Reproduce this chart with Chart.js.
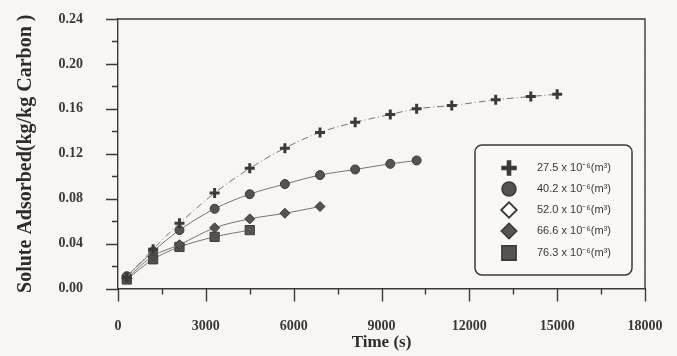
<!DOCTYPE html>
<html>
<head>
<meta charset="utf-8">
<script src="https://cdn.jsdelivr.net/npm/chart.js@4/dist/chart.umd.min.js"></script>
<style>
  html, body { margin: 0; padding: 0; background: #f7f6f2; }
  #wrap { width: 677px; height: 356px; position: relative; }
</style>
</head>
<body>
<div id="wrap"><canvas id="c" width="677" height="356"></canvas></div>
<script>
// Sampling times (s)
const times = [300, 1200, 2100, 3300, 4500, 5700, 6900, 8100, 9300, 10200, 11400, 12900, 14100, 15000];

// Solute adsorbed (kg/kg carbon) for each solution volume
const vol275 = [0.010, 0.035, 0.058, 0.085, 0.107, 0.125, 0.139, 0.148, 0.155, 0.160, 0.163, 0.168, 0.171, 0.173];
const vol402 = [0.011, 0.033, 0.052, 0.071, 0.084, 0.093, 0.101, 0.106, 0.111, 0.114];
const vol520 = [];
const vol666 = [0.009, 0.029, 0.039, 0.054, 0.062, 0.067, 0.073];
const vol763 = [0.008, 0.026, 0.037, 0.046, 0.052];

const seriesLabels = [
  '27.5 x 10\u207B\u2076(m\u00B3)',
  '40.2 x 10\u207B\u2076(m\u00B3)',
  '52.0 x 10\u207B\u2076(m\u00B3)',
  '66.6 x 10\u207B\u2076(m\u00B3)',
  '76.3 x 10\u207B\u2076(m\u00B3)'
];

const xTicks = [0, 3000, 6000, 9000, 12000, 15000, 18000];
const yTicks = [0.00, 0.04, 0.08, 0.12, 0.16, 0.20, 0.24];

const ink = '#3c3a38';
const markFill = '#55524f';
const lineCol = '#77736e';

function pts(values) {
  return values.map((v, i) => ({ x: times[i], y: v }));
}

const styles = [
  { pointStyle: 'cross', radius: 5, borderWidth: 3, bg: markFill, dash: [7, 3, 1, 3] },
  { pointStyle: 'circle', radius: 4.5, borderWidth: 1, bg: markFill, dash: [] },
  { pointStyle: 'rectRot', radius: 5, borderWidth: 1.2, bg: '#ffffff', dash: [] },
  { pointStyle: 'rectRot', radius: 5, borderWidth: 1, bg: markFill, dash: [] },
  { pointStyle: 'rect', radius: 6.5, borderWidth: 1, bg: markFill, dash: [] }
];

const seriesValues = [vol275, vol402, vol520, vol666, vol763];

const datasets = seriesValues.map((vals, i) => ({
  label: seriesLabels[i],
  data: pts(vals),
  showLine: true,
  tension: 0.35,
  borderColor: lineCol,
  borderWidth: 1,
  borderDash: styles[i].dash,
  pointStyle: styles[i].pointStyle,
  pointRadius: styles[i].radius,
  pointBorderWidth: styles[i].borderWidth,
  pointBorderColor: ink,
  pointBackgroundColor: styles[i].bg
}));

// Outward major/minor tick marks plus the top and right frame lines
const frameTicks = {
  id: 'frameTicks',
  afterDraw(chart) {
    const { ctx, chartArea: a, scales: { x, y } } = chart;
    ctx.save();
    ctx.strokeStyle = ink;
    ctx.lineWidth = 1.4;
    ctx.beginPath();
    ctx.moveTo(a.left, a.top);
    ctx.lineTo(a.right, a.top);
    ctx.lineTo(a.right, a.bottom);
    for (let v = 0; v <= 0.2401; v += 0.02) {
      const py = Math.round(y.getPixelForValue(v)) + 0.5;
      const major = Math.round(v * 100) % 4 === 0;
      ctx.moveTo(a.left - (major ? 12 : 6), py);
      ctx.lineTo(a.left, py);
    }
    for (let t = 0; t <= 18000; t += 1500) {
      const px = Math.round(x.getPixelForValue(t)) + 0.5;
      const major = t % 3000 === 0;
      ctx.moveTo(px, a.bottom);
      ctx.lineTo(px, a.bottom + (major ? 13 : 6));
    }
    ctx.stroke();
    ctx.restore();
  }
};

function drawMarker(ctx, st, cx, cy, scale) {
  const r = st.radius * scale;
  ctx.save();
  ctx.fillStyle = st.bg;
  ctx.strokeStyle = ink;
  ctx.lineWidth = st.borderWidth * scale;
  ctx.beginPath();
  if (st.pointStyle === 'cross') {
    ctx.moveTo(cx - r, cy); ctx.lineTo(cx + r, cy);
    ctx.moveTo(cx, cy - r); ctx.lineTo(cx, cy + r);
    ctx.stroke();
  } else if (st.pointStyle === 'circle') {
    ctx.arc(cx, cy, r, 0, Math.PI * 2);
    ctx.fill(); ctx.stroke();
  } else if (st.pointStyle === 'rectRot') {
    ctx.moveTo(cx - r, cy); ctx.lineTo(cx, cy - r);
    ctx.lineTo(cx + r, cy); ctx.lineTo(cx, cy + r);
    ctx.closePath(); ctx.fill(); ctx.stroke();
  } else {
    const s = Math.SQRT1_2 * r;
    ctx.rect(cx - s, cy - s, 2 * s, 2 * s);
    ctx.fill(); ctx.stroke();
  }
  ctx.restore();
}

// Boxed legend inside the plot area
const boxLegend = {
  id: 'boxLegend',
  afterDraw(chart) {
    const { ctx } = chart;
    const bx = 475, by = 145, bw = 157, bh = 130, rr = 7;
    ctx.save();
    ctx.fillStyle = '#f9f8f5';
    ctx.strokeStyle = ink;
    ctx.lineWidth = 1.5;
    ctx.beginPath();
    ctx.roundRect(bx, by, bw, bh, rr);
    ctx.fill();
    ctx.stroke();
    const rows = [168, 189, 210, 231, 253];
    ctx.font = '11px "Liberation Sans Narrow", "Liberation Sans", sans-serif';
    ctx.fillStyle = '#3a3835';
    ctx.textBaseline = 'middle';
    chart.data.datasets.forEach((ds, i) => {
      drawMarker(ctx, styles[i], 509, rows[i], 1.55);
      ctx.fillText(ds.label, 537, rows[i]);
    });
    ctx.restore();
  }
};

const serif = '"Liberation Serif", "Times New Roman", serif';

new Chart(document.getElementById('c'), {
  type: 'scatter',
  data: { datasets },
  plugins: [frameTicks, boxLegend],
  options: {
    responsive: false,
    animation: false,
    layout: { padding: { left: 0, top: 19, right: 32, bottom: 0 } },
    plugins: { legend: { display: false }, tooltip: { enabled: false } },
    scales: {
      x: {
        type: 'linear',
        min: xTicks[0],
        max: xTicks[xTicks.length - 1],
        afterBuildTicks(scale) { scale.ticks = xTicks.map(v => ({ value: v })); },
        afterFit(scale) { scale.height = 67.5; scale.paddingLeft = 0; scale.paddingRight = 0; },
        grid: { display: false },
        border: { display: true, color: ink, width: 1.4 },
        ticks: {
          padding: 21,
          color: '#3a3835',
          font: { family: serif, size: 14, weight: 'bold' },
          maxRotation: 0,
          callback: v => String(v)
        },
        title: {
          display: true,
          text: 'Time (s)',
          color: '#2e2c2a',
          font: { family: serif, size: 17, weight: 'bold' },
          padding: { top: 0, bottom: 3 }
        }
      },
      y: {
        type: 'linear',
        min: yTicks[0],
        max: yTicks[yTicks.length - 1],
        afterBuildTicks(scale) { scale.ticks = yTicks.map(v => ({ value: v })); },
        afterFit(scale) { scale.width = 118; scale.paddingTop = 0; scale.paddingBottom = 0; },
        grid: { display: false },
        border: { display: true, color: ink, width: 1.4 },
        ticks: {
          padding: 27,
          color: '#3a3835',
          font: { family: serif, size: 14, weight: 'bold' },
          callback: v => v.toFixed(2)
        },
        title: {
          display: true,
          text: 'Solute Adsorbed(kg/kg Carbon )',
          color: '#2e2c2a',
          font: { family: serif, size: 20, weight: 'bold' },
          padding: { top: 14, bottom: 0 }
        }
      }
    }
  }
});
</script>
</body>
</html>
